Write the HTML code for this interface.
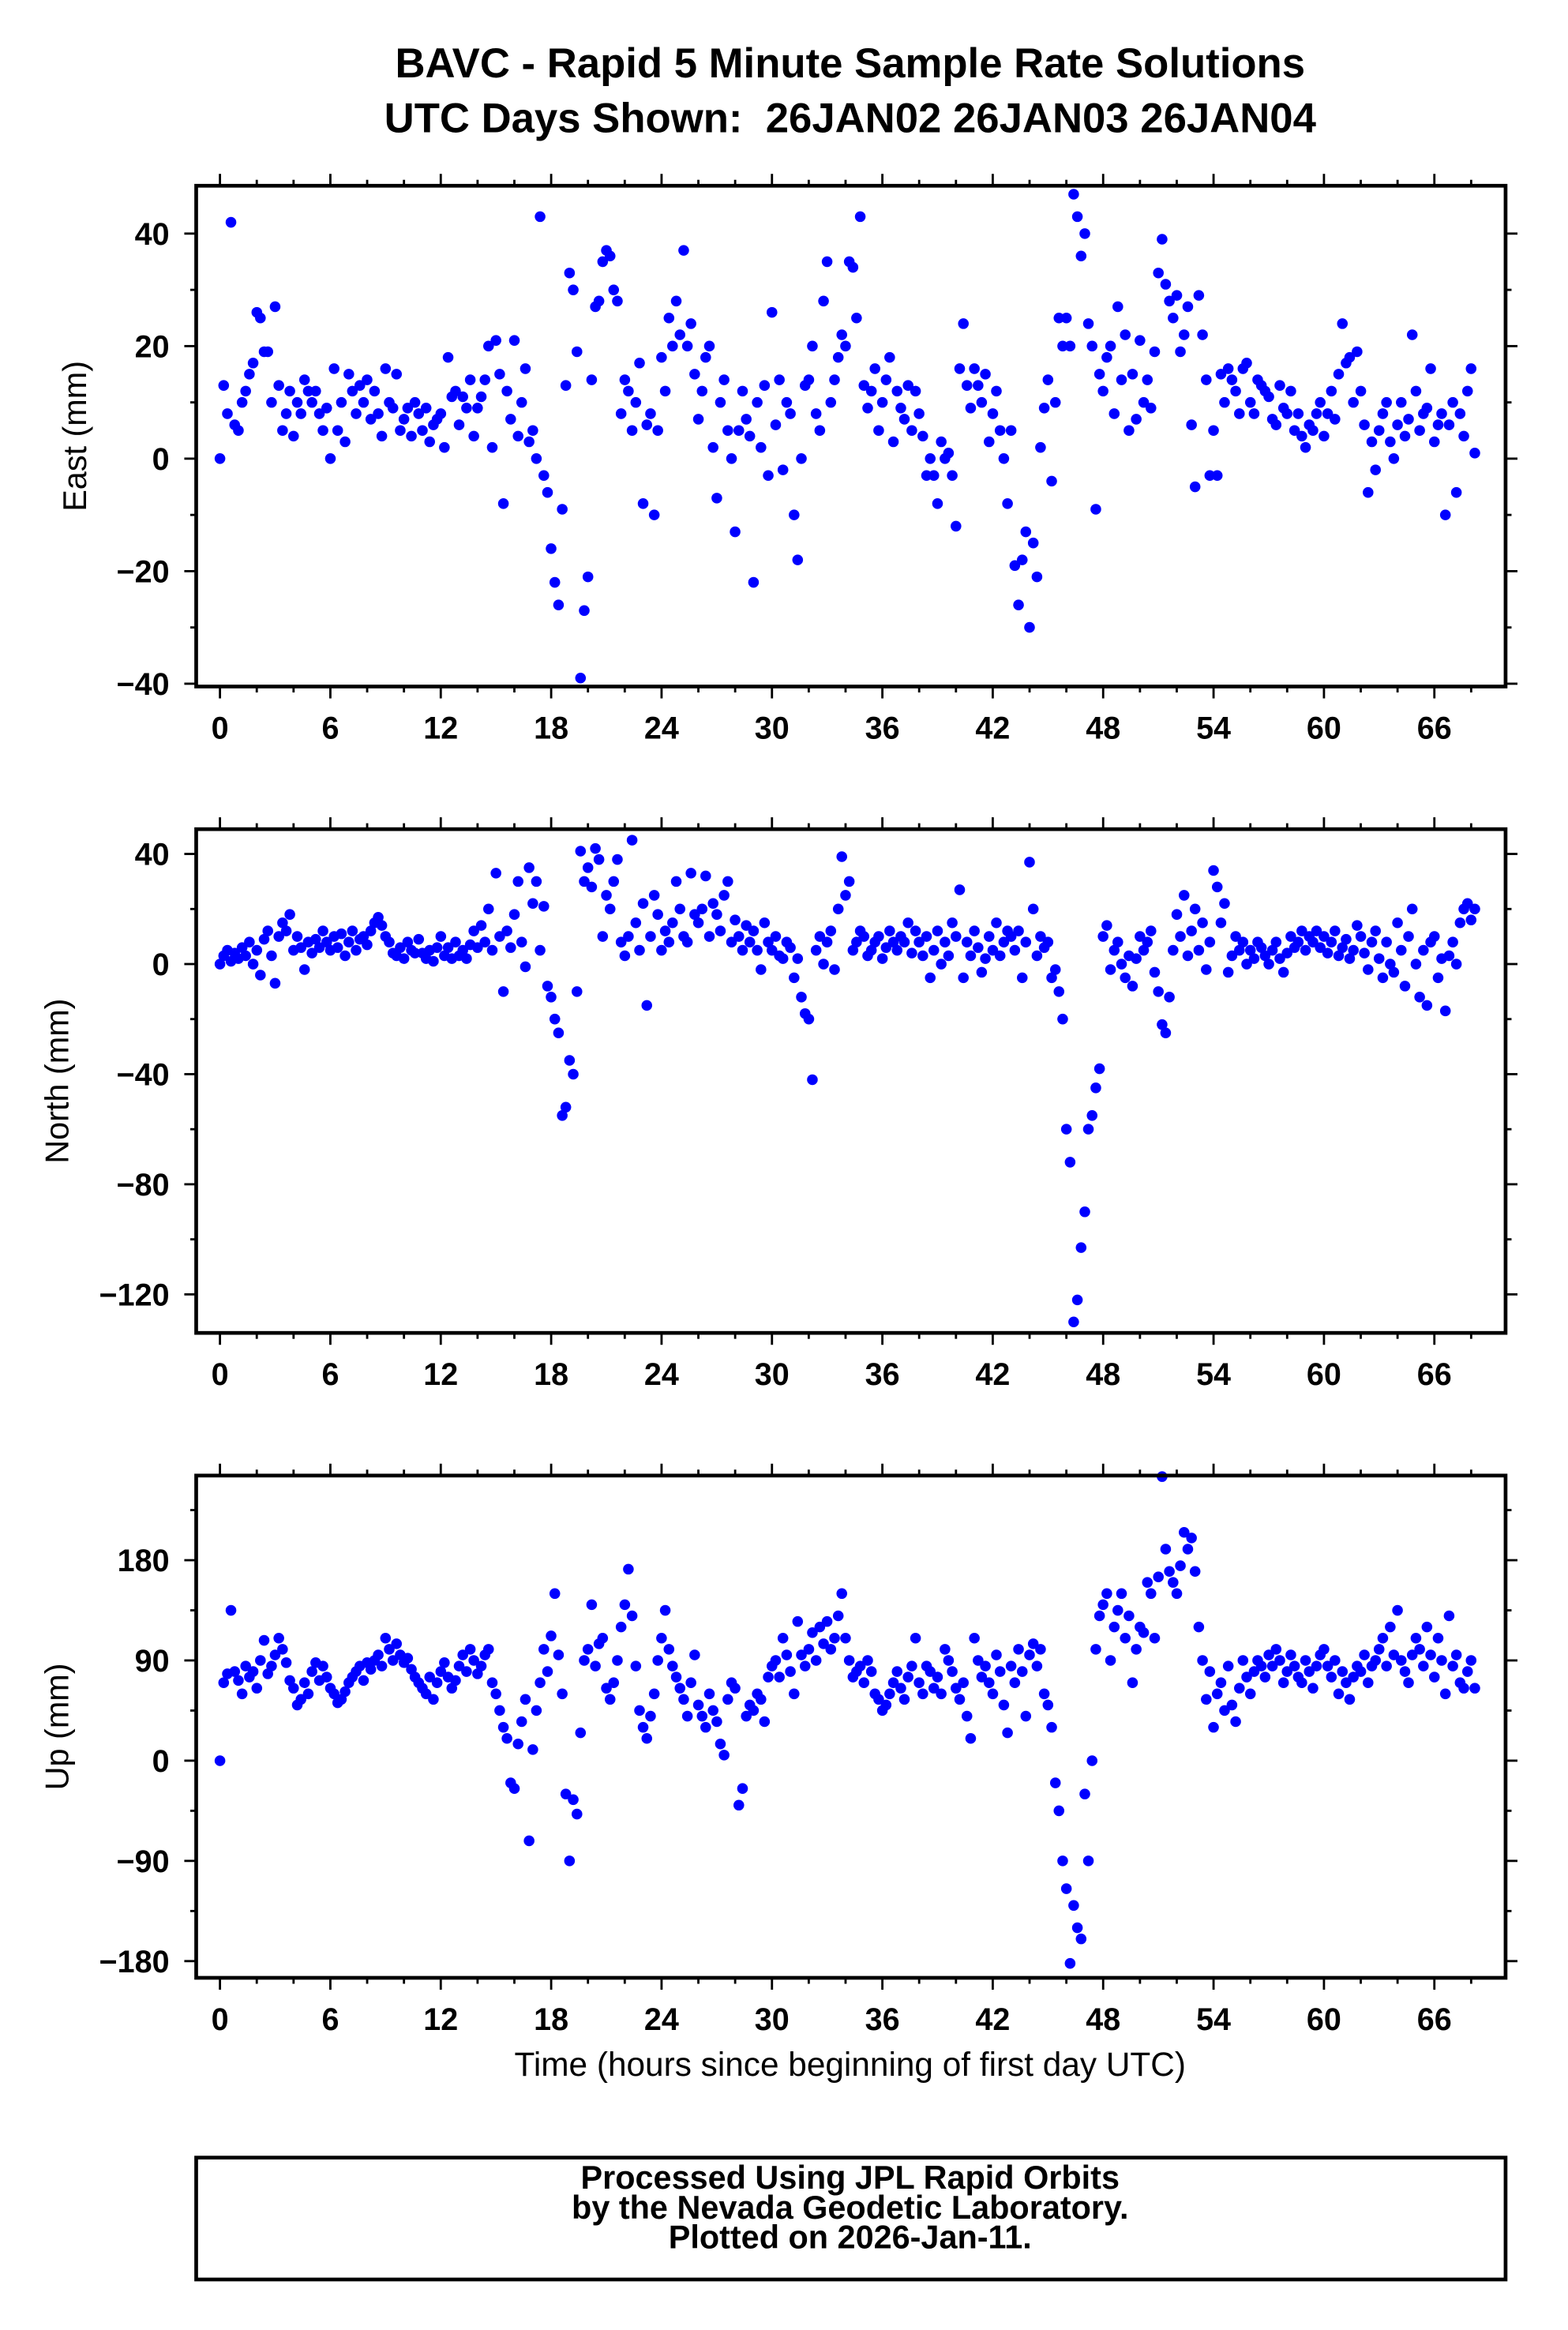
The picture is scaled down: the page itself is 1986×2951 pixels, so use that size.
<!DOCTYPE html>
<html><head><meta charset="utf-8"><style>
html,body{margin:0;padding:0;background:#fff;}
svg{display:block;font-family:"Liberation Sans",Arial,sans-serif;}
</style></head><body>
<svg id="chart" width="1986" height="2951" viewBox="0 0 1055 1568" preserveAspectRatio="none" xmlns="http://www.w3.org/2000/svg">
<text x="572" y="52" text-anchor="middle" font-size="28" font-weight="bold">BAVC - Rapid 5 Minute Sample Rate Solutions</text>
<text x="572" y="89" text-anchor="middle" font-size="28" font-weight="bold">UTC Days Shown:&#160; 26JAN02 26JAN03 26JAN04</text>
<g id="panels"></g>
<text x="572" y="1397" text-anchor="middle" font-size="22.5">Time (hours since beginning of first day UTC)</text>
<rect x="132" y="1452" width="881" height="82" fill="none" stroke="#000" stroke-width="2.5"/>
<text x="572" y="1473" text-anchor="middle" font-size="22" font-weight="bold">Processed Using JPL Rapid Orbits</text>
<text x="572" y="1493" text-anchor="middle" font-size="22" font-weight="bold">by the Nevada Geodetic Laboratory.</text>
<text x="572" y="1513" text-anchor="middle" font-size="22" font-weight="bold">Plotted on 2026-Jan-11.</text>
</svg>
<script>
const timeStep = 0.2;
const xTickLabels = [0,6,12,18,24,30,36,42,48,54,60,66];
const eastTicks = [40,20,0,-20,-40];
const northTicks = [40,0,-40,-80,-120];
const upTicks = [180,90,0,-90,-180];
const eastValues = [0,13,8,42,6, 5,10,12,15,17, 26,25,19,19,10, 27,13,5,8,12, 4,10,8,14,12, 10,12,8,5,9, 0,16,5,10,3, 15,12,8,13,10, 14,7,12,8,4, 16,10,9,15,5, 7,9,4,10,8, 5,9,3,6,7, 8,2,18,11,12, 6,11,9,14,4, 9,11,14,20,2, 21,15,-8,12,7, 21,4,10,16,3, 5,0,43,-3,-6, -16,-22,-26,-9,13, 33,30,19,-39,-27, -21,14,27,28,35, 37,36,30,28,8, 14,12,5,10,17, -8,6,8,-10,5, 18,12,25,20,28, 22,37,20,24,15, 7,12,18,20,2, -7,10,14,5,0, -13,5,12,7,4, -22,10,2,13,-3, 26,6,14,-2,10, 8,-10,-18,0,13, 14,20,8,5,28, 35,10,14,18,22, 20,35,34,25,43, 13,9,12,16,5, 10,14,18,3,12, 9,7,13,5,12, 8,4,-3,0,-3, -8,3,0,1,-3, -12,16,24,13,9, 16,13,10,15,3, 8,12,5,0,-8, 5,-19,-26,-18,-13, -30,-15,-21,2,9, 14,-4,10,25,20, 25,20,47,43,36, 40,24,20,-9,15, 12,18,20,8,27, 14,22,5,15,7, 21,10,14,9,19, 33,39,31,28,25, 29,19,22,27,6, -5,29,22,14,-3, 5,-3,15,10,16, 14,12,8,16,17, 10,8,14,13,12, 11,7,6,13,9, 8,12,5,8,4, 2,6,5,8,10, 4,8,12,7,15, 24,17,18,10,19, 12,6,-6,3,-2, 5,8,10,3,0, 6,10,4,7,22, 12,5,8,9,16, 3,6,8,-10,6, 10,-6,8,4,12, 16,1];
const northValues = [0,3,5,1,4, 2,6,3,8,0, 5,-4,9,12,3, -7,10,15,12,18, 5,10,6,-2,8, 4,9,6,12,8, 5,10,6,11,3, 8,12,5,9,10, 7,12,15,17,14, 10,8,4,3,6, 2,8,5,4,9, 4,2,5,1,6, 10,3,6,2,8, 3,5,2,7,12, 6,14,8,20,5, 33,10,-10,12,6, 18,30,8,-1,35, 22,30,5,21,-8, -12,-20,-25,-55,-52, -35,-40,-10,41,30, 35,28,42,38,10, 25,20,30,38,8, 3,10,45,15,5, 22,-15,10,25,18, 5,12,8,15,30, 20,10,8,33,18, 15,20,32,10,22, 18,12,25,30,8, 16,10,5,14,8, 12,5,-2,15,8, 5,10,3,2,8, 6,-5,2,-12,-18, -20,-42,5,10,0, 8,12,-2,20,39, 25,30,5,8,12, 10,3,5,8,10, 2,6,12,8,5, 10,8,15,4,12, 8,3,10,-5,5, 12,0,8,3,15, 10,27,-5,8,3, 12,6,-3,2,10, 5,15,3,8,12, 10,5,12,-5,8, 37,20,3,10,6, 8,-5,-2,-10,-20, -60,-72,-130,-122,-103, -90,-60,-55,-45,-38, 10,14,-2,5,8, 0,-5,3,-8,2, 10,5,8,12,-3, -10,-22,-25,-12,5, 18,10,25,3,12, 20,5,15,-2,8, 34,28,15,22,-3, 3,10,5,8,0, 5,2,8,6,3, 0,5,8,2,-3, 4,10,6,8,12, 5,10,8,12,6, 10,4,8,12,3, 6,9,2,5,14, 10,4,-2,8,12, 2,-5,8,0,-3, 15,5,-8,10,20, 0,-12,5,-15,8, 10,-5,2,-17,3, 8,0,15,20,22, 16,20];
const upValues = [0,70,78,135,80, 72,60,85,75,80, 65,90,108,78,85, 95,110,100,88,72, 65,50,55,70,60, 80,88,72,85,75, 65,60,52,55,62, 70,75,80,85,72, 88,82,90,95,85, 110,100,90,105,95, 88,92,82,75,70, 65,60,75,55,70, 80,88,75,65,72, 85,95,80,100,90, 78,85,95,100,70, 60,45,30,20,-20, -25,15,35,55,-72, 10,45,70,100,80, 112,150,95,60,-30, -90,-35,-48,25,90, 100,140,85,105,110, 65,55,70,90,120, 140,172,130,85,45, 30,20,40,60,90, 110,135,100,85,75, 65,55,40,70,95, 50,40,30,60,45, 35,15,5,55,70, 65,-40,-25,40,50, 45,60,55,35,75, 85,90,75,110,95, 80,60,125,95,85, 100,115,90,120,105, 125,100,110,130,150, 110,90,75,80,85, 70,90,80,60,55, 45,50,60,70,80, 65,55,75,85,110, 70,60,85,80,65, 75,60,100,90,80, 65,55,70,40,20, 110,90,75,85,70, 60,95,80,50,25, 85,70,100,80,40, 95,105,85,100,60, 50,30,-20,-45,-90, -115,-182,-130,-150,-160, -30,-90,0,100,130, 140,150,90,120,135, 150,110,130,70,100, 120,115,160,150,110, 165,255,190,170,160, 150,175,205,190,200, 170,120,90,55,80, 30,60,70,45,85, 50,35,65,90,75, 60,80,90,85,75, 95,85,100,90,70, 80,95,85,75,70, 90,80,65,85,95, 100,85,75,90,60, 80,70,55,75,85, 80,95,70,85,90, 100,110,85,120,95, 135,90,80,70,95, 110,100,85,120,95, 75,110,90,60,130, 85,95,70,65,80, 90,65];

const NS = "http://www.w3.org/2000/svg";
const FX0 = 132, FX1 = 1013;
const xScale = t => 148 + t * 12.38;
function mk(tag, attrs, parent) {
  const e = document.createElementNS(NS, tag);
  for (const k in attrs) e.setAttribute(k, attrs[k]);
  parent.appendChild(e);
  return e;
}
const panels = document.getElementById('panels');
const specs = [
  {name:'east', title:'East (mm)', top:125, bottom:462, yTop:48.5, yBot:-40.5, ticks:eastTicks, minor:10, vals:eastValues, titleX:58},
  {name:'north', title:'North (mm)', top:558, bottom:897, yTop:49, yBot:-134, ticks:northTicks, minor:20, vals:northValues, titleX:46},
  {name:'up', title:'Up (mm)', top:993, bottom:1331, yTop:256, yBot:-195, ticks:upTicks, minor:45, vals:upValues, titleX:46}
];
specs.forEach(s => {
  const g = mk('g', {}, panels);
  
  
  const yScale = v => s.top + (s.yTop - v) / (s.yTop - s.yBot) * (s.bottom - s.top);
  const pts = mk('g', {fill:'#0000ff'}, g);
  
  
  s.vals.forEach((v, i) => {
    const c = mk('circle', {cx: xScale(i * timeStep).toFixed(1), cy: yScale(v).toFixed(1), r: 3.6}, pts);
    
    
  });
  const fr = mk('rect', {x:FX0, y:s.top, width:FX1-FX0, height:s.bottom-s.top, fill:'none', stroke:'#000', 'stroke-width':2.5}, g);
  
  
  for (let h = 0; h <= 68; h += 2) {
    const x = xScale(h), L = (h % 6 === 0) ? 8 : 4;
    mk('line', {x1:x, x2:x, y1:s.bottom, y2:s.bottom + L, stroke:'#000', 'stroke-width':1.5}, g);
    mk('line', {x1:x, x2:x, y1:s.top, y2:s.top - L, stroke:'#000', 'stroke-width':1.5}, g);
  }
  xTickLabels.forEach(h => {
    const t = mk('text', {x:xScale(h), y:s.bottom + 35, 'text-anchor':'middle', 'font-size':21, 'font-weight':'bold'}, g);
    
    
    t.textContent = h;
  });
  const lo = Math.ceil(s.yBot / s.minor) * s.minor;
  for (let v = lo; v <= s.yTop; v += s.minor) {
    const y = yScale(v), L = s.ticks.includes(v) ? 8 : 4;
    mk('line', {x1:FX0, x2:FX0 - L, y1:y, y2:y, stroke:'#000', 'stroke-width':1.5}, g);
    mk('line', {x1:FX1, x2:FX1 + L, y1:y, y2:y, stroke:'#000', 'stroke-width':1.5}, g);
  }
  s.ticks.forEach(v => {
    const t = mk('text', {x:114, y:yScale(v) + 7.5, 'text-anchor':'end', 'font-size':21, 'font-weight':'bold'}, g);
    
    
    t.textContent = v < 0 ? '\u2212' + Math.abs(v) : String(v);
  });
  const cy = (s.top + s.bottom) / 2;
  const yt = mk('text', {x:s.titleX, y:cy, 'text-anchor':'middle', 'font-size':22, transform:'rotate(-90 ' + s.titleX + ' ' + cy + ')'}, g);
  
  
  yt.textContent = s.title;
});
</script>
</body></html>
